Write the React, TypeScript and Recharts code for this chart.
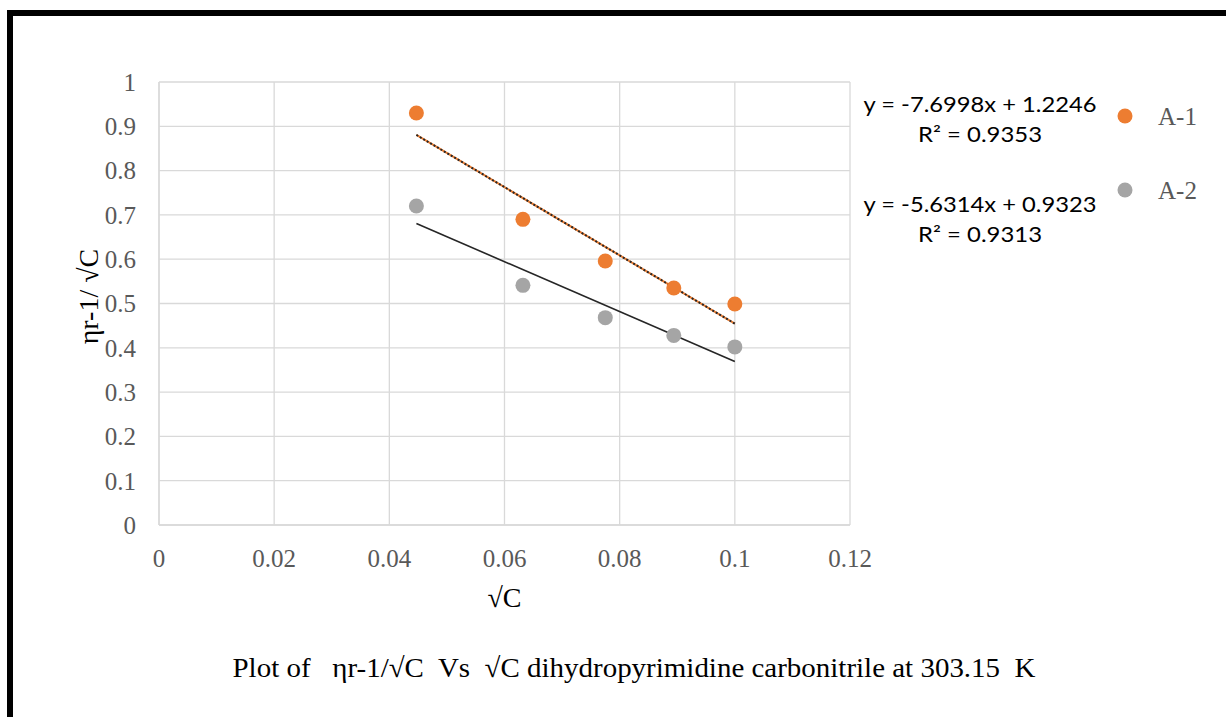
import React from 'react';
import { ScatterChart, Scatter, XAxis, YAxis, CartesianGrid, ReferenceLine } from 'recharts';

const sqrtC = [0.0447, 0.0632, 0.0775, 0.0894, 0.1];
const a1Values = [0.93, 0.69, 0.596, 0.535, 0.499];
const a2Values = [0.72, 0.541, 0.468, 0.428, 0.402];
const seriesNames = ['A-1', 'A-2'];
const seriesColors = ['#ED7D31', '#A5A5A5'];
const slopes = [-7.6998, -5.6314];
const intercepts = [1.2246, 0.9323];
const equationTexts = ['y = -7.6998x + 1.2246', 'y = -5.6314x + 0.9323'];
const r2Texts = ['R² = 0.9353', 'R² = 0.9313'];
const xTicks = [0, 0.02, 0.04, 0.06, 0.08, 0.1, 0.12];
const yTicks = [0, 0.1, 0.2, 0.3, 0.4, 0.5, 0.6, 0.7, 0.8, 0.9, 1];
const xTitle = '√C';
const yTitle = 'ηr-1/ √C';
const caption = 'Plot of   ηr-1/√C  Vs  √C dihydropyrimidine carbonitrile at 303.15  K';

const serif = '"Liberation Serif", "Times New Roman", serif';
const sans = 'Lato, "Liberation Sans", sans-serif';

const series = [a1Values, a2Values].map((vals) => sqrtC.map((x, i) => ({ x, y: vals[i] })));
const xMin = Math.min(...sqrtC);
const xMax = Math.max(...sqrtC);
const trends = slopes.map((m, i) => [
  { x: xMin, y: m * xMin + intercepts[i] },
  { x: xMax, y: m * xMax + intercepts[i] },
]);

const Dot = (color: string) => (p: any) => (
  <circle cx={p.cx} cy={p.cy} r={7.5} fill={color} />
);

export default function App() {
  return (
    <div style={{ position: 'absolute', left: 0, top: 0, width: 1226, height: 717, background: '#fff', overflow: 'hidden' }}>
      <div style={{ position: 'absolute', left: 7, top: 10, width: 1400, height: 900, borderTop: '6px solid #000', borderLeft: '6px solid #000' }} />
      <div style={{ position: 'absolute', left: 0, top: 0 }}>
        <ScatterChart width={1226} height={717} margin={{ top: 82, right: 376, bottom: 0, left: 0 }}>
          <CartesianGrid stroke="#D9D9D9" strokeWidth={1.3} />
          <XAxis
            type="number"
            dataKey="x"
            domain={[0, 0.12]}
            ticks={xTicks}
            height={192}
            tickLine={false}
            tickSize={0}
            tickMargin={24}
            axisLine={{ stroke: '#D9D9D9', strokeWidth: 1.3 }}
            tick={{ fill: '#595959', fontSize: 25, fontFamily: serif }}
            label={{
              content: (props: any) => {
                const vb = props.viewBox;
                return (
                  <text x={vb.x + vb.width / 2} y={vb.y + 72} textAnchor="middle" dominantBaseline="central" fontSize={28} fontFamily={serif} fill="#000">
                    {xTitle}
                  </text>
                );
              },
            }}
          />
          <YAxis
            type="number"
            dataKey="y"
            domain={[0, 1]}
            ticks={yTicks}
            width={159}
            tickLine={false}
            tickSize={0}
            tickMargin={23}
            axisLine={{ stroke: '#D9D9D9', strokeWidth: 1.3 }}
            tick={{ fill: '#595959', fontSize: 25, fontFamily: serif }}
            label={{
              content: (props: any) => {
                const vb = props.viewBox;
                const cx = vb.x + 88;
                const cy = vb.y + vb.height / 2 - 7;
                return (
                  <text x={cx} y={cy} transform={`rotate(-90 ${cx} ${cy})`} textAnchor="middle" dominantBaseline="central" fontSize={28} fontFamily={serif} fill="#000">
                    {yTitle}
                  </text>
                );
              },
            }}
          />
          <ReferenceLine segment={trends[0]} stroke="#ED7D31" strokeWidth={2} ifOverflow="visible" />
          <ReferenceLine segment={trends[0]} stroke="#262626" strokeWidth={2} strokeDasharray="2 2" ifOverflow="visible" />
          <ReferenceLine segment={trends[1]} stroke="#262626" strokeWidth={1.6} ifOverflow="visible" />
          {series.map((d, i) => (
            <Scatter key={seriesNames[i]} name={seriesNames[i]} data={d} fill={seriesColors[i]} shape={Dot(seriesColors[i])} isAnimationActive={false} />
          ))}
        </ScatterChart>
      </div>
      <svg width={1226} height={717} style={{ position: 'absolute', left: 0, top: 0, pointerEvents: 'none' }}>
        {seriesNames.map((n, i) => (
          <g key={n}>
            <text x={980} y={103 + i * 100} textAnchor="middle" dominantBaseline="central" fontSize={21} fontFamily={sans} fill="#000" textLength={233} lengthAdjust="spacingAndGlyphs">
              {equationTexts[i]}
            </text>
            <text x={980} y={133 + i * 100} textAnchor="middle" dominantBaseline="central" fontSize={21} fontFamily={sans} fill="#000" textLength={124} lengthAdjust="spacingAndGlyphs">
              {r2Texts[i]}
            </text>
            <circle cx={1125} cy={116 + i * 74} r={7.5} fill={seriesColors[i]} />
            <text x={1158} y={116 + i * 74} dominantBaseline="central" fontSize={25} fontFamily={serif} fill="#595959">
              {n}
            </text>
          </g>
        ))}
        <text x={634} y={667} textAnchor="middle" dominantBaseline="central" fontSize={28} fontFamily={serif} fill="#000" textLength={803} lengthAdjust="spacingAndGlyphs" style={{ whiteSpace: 'pre' }}>
          {caption}
        </text>
      </svg>
    </div>
  );
}
